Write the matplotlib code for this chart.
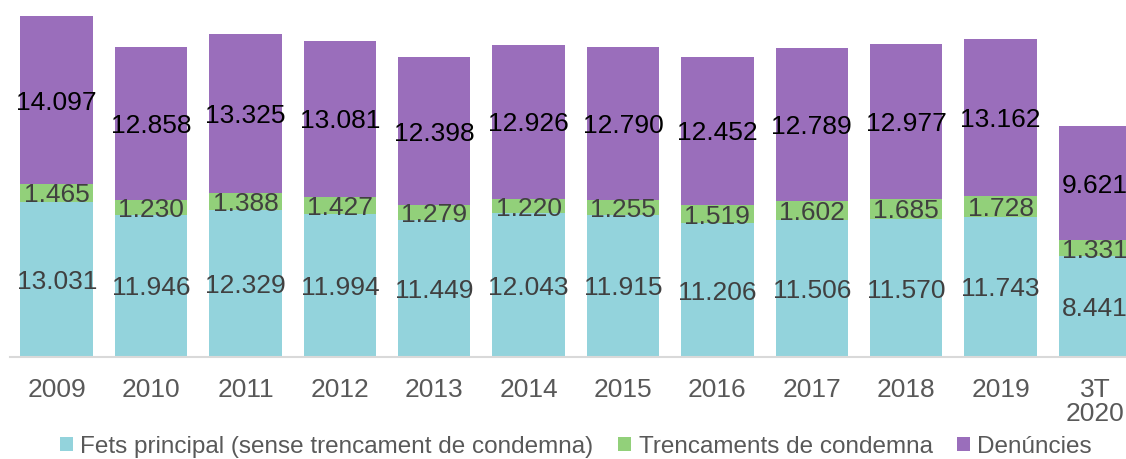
import matplotlib.pyplot as plt
import numpy as np

plt.rcParams['font.family'] = ['Liberation Sans', 'DejaVu Sans']

years = ['2009', '2010', '2011', '2012', '2013', '2014', '2015', '2016',
         '2017', '2018', '2019', '3T\n2020']
fets = [13031, 11946, 12329, 11994, 11449, 12043, 11915, 11206, 11506, 11570, 11743, 8441]
trencaments = [1465, 1230, 1388, 1427, 1279, 1220, 1255, 1519, 1602, 1685, 1728, 1331]
denuncies = [14097, 12858, 13325, 13081, 12398, 12926, 12790, 12452, 12789, 12977, 13162, 9621]

series = [
    ('Fets principal (sense trencament de condemna)', fets, '#93D3DC', '#404040'),
    ('Trencaments de condemna', trencaments, '#92D07A', '#404040'),
    ('Denúncies', denuncies, '#9A6EBB', '#000000'),
]


def fmt(v):
    return f'{v:,}'.replace(',', '.')


fig = plt.figure(figsize=(11.26, 4.59), dpi=100)
ax = fig.add_axes([9.5 / 1126, 102 / 459, 1132.6 / 1126, 357 / 459])

x = np.arange(len(years))
bottom = np.zeros(len(years))
for name, vals, col, tcol in series:
    vals = np.array(vals)
    ax.bar(x, vals, 0.768, bottom=bottom, color=col, label=name, zorder=2)
    for xi, b, v in zip(x, bottom, vals):
        ax.text(xi, b + v / 2, fmt(v), ha='center', va='center_baseline',
                fontsize=19, color=tcol, zorder=3)
    bottom += vals

ax.set_xlim(-0.5, len(years) - 0.5)
ax.set_ylim(0, 28593 * 357 / 341)
ax.set_xticks(x)
ax.set_xticklabels(years, fontsize=19, color='#595959', linespacing=1.0)
ax.tick_params(axis='x', length=0, pad=15)
ax.set_yticks([])
for s in ['top', 'right', 'left']:
    ax.spines[s].set_visible(False)
ax.spines['bottom'].set_color('#D9D9D9')
ax.spines['bottom'].set_linewidth(1.5)

fig.legend(loc='center', bbox_to_anchor=(0.5115, 0.027), ncol=3, frameon=False,
           fontsize=17.5, handlelength=0.55, handleheight=0.55, handletextpad=0.3,
           columnspacing=1.0, labelcolor='#595959', borderpad=0)

fig.savefig('out.png', dpi=100)
